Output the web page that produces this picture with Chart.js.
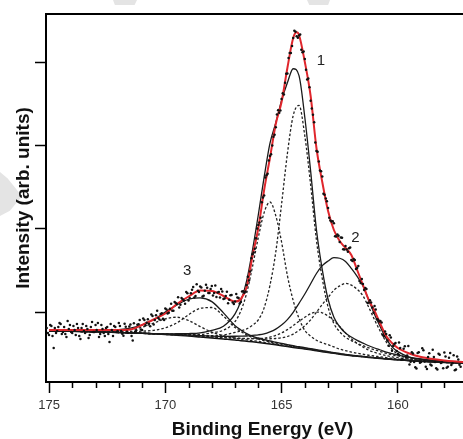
<!DOCTYPE html>
<html><head><meta charset="utf-8">
<script src="https://cdn.jsdelivr.net/npm/chart.js@4.4.0/dist/chart.umd.min.js"></script>
<style>
html,body{margin:0;padding:0;background:#fff;overflow:hidden;width:463px;height:439px;}
#wrap{position:relative;width:483px;height:439px;}
.wm{position:absolute;background:#e4e4e4;}
canvas{position:absolute;left:0;top:0;}
</style></head><body>
<div id="wrap">
<div class="wm" style="left:113px;top:0;width:24px;height:5px;clip-path:polygon(0 0,100% 0,90% 100%,8% 100%)"></div>
<div class="wm" style="left:307px;top:0;width:23px;height:5px;clip-path:polygon(0 0,100% 0,92% 100%,10% 100%)"></div>
<div class="wm" style="left:0;top:172px;width:22px;height:44px;clip-path:polygon(0 0,35% 15%,100% 55%,45% 88%,0 100%)"></div>
<canvas id="c" width="483" height="439"></canvas>
</div>
<script>
// ---- fit grid (binding energy, eV) ----
const fitEnergy = [175,174,173,172,171.5,171,170.5,170,169.5,169,168.5,168,167.5,167,166.75,166.5,166.25,166,165.75,165.5,165.25,165,164.75,164.5,164.25,164,163.75,163.5,163.25,163,162.75,162.5,162.25,162,161.75,161.5,161.25,161,160.75,160.5,160.25,160,159.5,159,158,156.6];
// Shirley-type background (counts)
const backgroundCounts = [772,768,762,754,749,744,737,730,721,712,700,688,676,664,656,649,642,634,625,616,606,596,586,575,565,556,546,535,524,514,504,494,485,476,469,462,455,449,443,437,431,426,416,408,395,381];
// component heights above background (counts)
const peak1a = [0,0,0,0,0,0,0,0,6,9,18,29,47,91,117,149,199,272,425,703,1112,1698,2313,2782,2914,2556,1980,1326,878,545,357,269,211,181,155,134,114,97,82,67,56,47,32,23,12,3];
const peak1b = [0,0,0,0,0,0,4,7,12,20,32,63,106,222,358,579,903,1261,1568,1704,1551,1244,852,562,358,222,165,126,107,94,77,60,51,43,36,31,26,22,19,15,13,10,7,5,2,0];
const peak2a = [0,0,0,1,1,2,2,3,5,7,9,13,16,23,28,33,39,45,51,63,76,94,120,160,215,279,360,463,566,661,758,819,858,846,804,732,600,456,324,204,120,72,24,8,0,0];
const peak2b = [0,0,0,0,0,1,2,3,4,6,8,10,16,22,26,30,39,47,61,82,113,153,203,261,324,381,433,464,466,437,390,332,264,202,155,118,87,66,52,40,31,26,19,13,7,2];
const peak3a = [1,3,6,13,18,26,43,80,149,255,344,366,275,149,110,76,52,41,33,26,22,18,16,14,12,10,9,8,7,6,5,5,4,4,3,3,2,2,2,1,1,1,1,0,0,0];
const peak3b = [2,4,10,22,39,73,130,188,216,186,125,71,39,23,19,16,14,13,11,10,9,8,7,7,6,6,5,5,4,4,3,3,3,3,2,2,2,2,2,1,1,1,1,0,0,0];
// envelope (sum of fit)
const envelopeEnergy = [175,174,173,172,171.5,171,170.5,170,169.5,169,168.5,168,167.5,167,166.75,166.5,166.25,166,165.75,165.5,165.25,165,164.75,164.5,164.35,164.25,164,163.75,163.5,163.25,163,162.75,162.5,162.25,162,161.75,161.5,161.25,161,160.75,160.5,160.25,160,159.5,159,158,156.6];
const envelopeCounts = [784,784,784,784,790,844,910,982,1096,1186,1258,1252,1192,1126,1156,1300,1672,2008,2464,2848,3256,3520,3928,4288,4356,4324,4000,3592,2968,2560,2212,1984,1852,1768,1684,1504,1324,1144,1012,856,712,628,568,502,460,418,388];
// measured data points (scan at x.x0 eV)
const dataEnergy = [175.1,175.0,174.9,174.8,174.7,174.6,174.5,174.4,174.3,174.2,
174.1,174.0,173.9,173.8,173.7,173.6,173.5,173.4,173.3,173.2,
173.1,173.0,172.9,172.8,172.7,172.6,172.5,172.4,172.3,172.2,
172.1,172.0,171.9,171.8,171.7,171.6,171.5,171.4,171.3,171.2,
171.1,171.0,170.9,170.8,170.7,170.6,170.5,170.4,170.3,170.2,
170.1,170.0,169.9,169.8,169.7,169.6,169.5,169.4,169.3,169.2,
169.1,169.0,168.9,168.8,168.7,168.6,168.5,168.4,168.3,168.2,
168.1,168.0,167.9,167.8,167.7,167.6,167.5,167.4,167.3,167.2,
167.1,167.0,166.9,166.8,166.7,166.6,166.5,166.4,166.3,166.2,
166.1,166.0,165.9,165.8,165.7,165.6,165.5,165.4,165.3,165.2,
165.1,165.0,164.9,164.8,164.7,164.6,164.5,164.4,164.3,164.2,
164.1,164.0,163.9,163.8,163.7,163.6,163.5,163.4,163.3,163.2,
163.1,163.0,162.9,162.8,162.7,162.6,162.5,162.4,162.3,162.2,
162.1,162.0,161.9,161.8,161.7,161.6,161.5,161.4,161.3,161.2,
161.1,161.0,160.9,160.8,160.7,160.6,160.5,160.4,160.3,160.2,
160.1,160.0,159.9,159.8,159.7,159.6,159.5,159.4,159.3,159.2,
159.1,159.0,158.9,158.8,158.7,158.6,158.5,158.4,158.3,158.2,
158.1,158.0,157.9,157.8,157.7,157.6,157.5,157.4,157.3];
const dataCounts = [808,724,832,568,748,820,856,760,736,892,
844,748,784,856,712,808,772,832,688,820,
760,844,868,736,796,712,820,640,784,832,
760,868,773,714,823,752,850,657,764,846,
905,784,905,870,860,969,850,960,927,977,
920,1042,981,1040,1014,1121,1096,1054,1168,1138,
1240,1138,1224,1299,1193,1256,1306,1185,1256,1290,
1229,1312,1228,1180,1240,1276,1156,1191,1106,1200,
1115,1126,1174,1102,1245,1230,1324,1377,1646,1715,
1886,2044,2130,2373,2613,2658,2872,2999,3126,3369,
3390,3556,3611,3858,4048,4108,4288,4364,4290,4331,
4118,4036,3789,3698,3443,3278,2932,2805,2690,2418,
2363,2248,2097,2090,1910,1929,1840,1890,1749,1751,
1766,1624,1636,1516,1552,1348,1336,1288,1108,1142,
1053,1072,914,887,875,710,736,594,693,592,
628,496,567,434,588,479,370,518,401,321,
516,400,540,344,459,371,547,399,311,486,
398,514,332,450,364,481,311,429,343];
// measured data points (scan at x.x5 eV)
const dataEnergyMid = [175.05,174.95,174.85,174.75,174.65,174.55,174.45,174.35,174.25,174.15,
174.05,173.95,173.85,173.75,173.65,173.55,173.45,173.35,173.25,173.15,
173.05,172.95,172.85,172.75,172.65,172.55,172.45,172.35,172.25,172.15,
172.05,171.95,171.85,171.75,171.65,171.55,171.45,171.35,171.25,171.15,
171.05,170.95,170.85,170.75,170.65,170.55,170.45,170.35,170.25,170.15,
170.05,169.95,169.85,169.75,169.65,169.55,169.45,169.35,169.25,169.15,
169.05,168.95,168.85,168.75,168.65,168.55,168.45,168.35,168.25,168.15,
168.05,167.95,167.85,167.75,167.65,167.55,167.45,167.35,167.25,167.15,
167.05,166.95,166.85,166.75,166.65,166.55,166.45,166.35,166.25,166.15,
166.05,165.95,165.85,165.75,165.65,165.55,165.45,165.35,165.25,165.15,
165.05,164.95,164.85,164.75,164.65,164.55,164.45,164.35,164.25,164.15,
164.05,163.95,163.85,163.75,163.65,163.55,163.45,163.35,163.25,163.15,
163.05,162.95,162.85,162.75,162.65,162.55,162.45,162.35,162.25,162.15,
162.05,161.95,161.85,161.75,161.65,161.55,161.45,161.35,161.25,161.15,
161.05,160.95,160.85,160.75,160.65,160.55,160.45,160.35,160.25,160.15,
160.05,159.95,159.85,159.75,159.65,159.55,159.45,159.35,159.25,159.15,
159.05,158.95,158.85,158.75,158.65,158.55,158.45,158.35,158.25,158.15,
158.05,157.95,157.85,157.75,157.65,157.55,157.45,157.35];
const dataCountsMid = [748,844,712,808,772,868,736,820,700,796,
760,832,724,808,676,856,748,796,724,880,
760,784,700,844,748,808,736,856,712,820,
772,832,738,859,764,825,712,866,781,852,
790,922,840,913,830,952,905,1015,910,984,
903,1030,992,1099,1014,1108,1177,1087,1153,1099,
1225,1169,1267,1174,1332,1239,1293,1196,1327,1229,
1276,1198,1318,1234,1174,1246,1161,1244,1147,1205,
1096,1216,1168,1119,1249,1247,1422,1487,1692,1758,
2001,2075,2317,2397,2641,2819,2893,3104,3217,3421,
3419,3625,3752,3863,4108,4192,4374,4309,4317,4147,
4125,3906,3803,3534,3366,3033,2922,2699,2626,2408,
2329,2130,2087,2066,1907,1914,1895,1753,1792,1722,
1773,1612,1624,1528,1372,1396,1264,1276,1113,1115,
990,1029,906,893,726,765,659,721,534,616,
532,633,428,559,461,592,402,501,337,508,
392,566,406,317,505,357,461,325,500,388,
324,465,343,509,386,300,466,368];
// axes
const xTickValues = [157,158,159,160,161,162,163,164,165,166,167,168,169,170,171,172,173,174,175];
const xMajorTicks = [160,165,170,175];
const yTickValues = [1000,2000,3000,4000];
const xRange = [156.51, 175.13];
const yRange = [160, 4576];
// peak labels
const peakLabels = ['1','2','3'];
const peakLabelEnergy = [163.31, 161.82, 169.06];
const peakLabelCounts = [4012, 1884, 1495];

Chart.defaults.font.family = '"Liberation Sans", Arial, Helvetica, sans-serif';

const pts = (xs, ys) => xs.map((x, i) => ({x: x, y: ys[i]}));
const onBackground = (...parts) => fitEnergy.map((x, i) => ({x: x, y: parts.reduce((s, p) => s + p[i], backgroundCounts[i])}));

const lineBase = {showLine: true, pointRadius: 0, fill: false, tension: 0.4, cubicInterpolationMode: 'monotone'};
const solid = (data) => Object.assign({}, lineBase, {data, borderColor: '#1a1a1a', borderWidth: 1.3, order: 2});
const dotted = (data) => Object.assign({}, lineBase, {data, borderColor: '#222', borderWidth: 1.3, borderDash: [2.5, 2], order: 3});

const datasets = [
  {data: pts(dataEnergy, dataCounts).concat(pts(dataEnergyMid, dataCountsMid)), showLine: false, pointRadius: 1.25, pointBackgroundColor: '#111', pointBorderWidth: 0, order: 0},
  Object.assign({}, lineBase, {data: pts(envelopeEnergy, envelopeCounts), borderColor: '#e0262c', borderWidth: 2, order: 1}),
  solid(onBackground(peak1a, peak1b)),
  solid(onBackground(peak2a, peak2b)),
  solid(onBackground(peak3a, peak3b)),
  dotted(onBackground(peak1a)), dotted(onBackground(peak1b)),
  dotted(onBackground(peak2a)), dotted(onBackground(peak2b)),
  dotted(onBackground(peak3a)), dotted(onBackground(peak3b)),
  Object.assign({}, lineBase, {data: pts(fitEnergy, backgroundCounts), borderColor: '#111', borderWidth: 1.5, order: 4})
];

const framePlugin = {
  id: 'frame',
  afterDraw(chart) {
    const {ctx, chartArea, scales} = chart;
    const xs = scales.x, ys = scales.y;
    ctx.save();
    ctx.strokeStyle = '#000';
    ctx.lineWidth = 2;
    ctx.beginPath();
    ctx.moveTo(chartArea.left - 1, chartArea.top);
    ctx.lineTo(chartArea.right, chartArea.top);
    ctx.stroke();
    ctx.lineWidth = 1.5;
    xs.ticks.forEach(t => {
      if (!xMajorTicks.includes(t.value)) {
        const px = Math.round(xs.getPixelForValue(t.value)) + 0.5;
        ctx.beginPath();
        ctx.moveTo(px, chartArea.bottom);
        ctx.lineTo(px, chartArea.bottom + 6);
        ctx.stroke();
      }
    });
    ctx.fillStyle = '#222';
    ctx.font = '15px "Liberation Sans", Arial, sans-serif';
    ctx.textAlign = 'center';
    ctx.textBaseline = 'middle';
    peakLabels.forEach((s, i) => ctx.fillText(s, xs.getPixelForValue(peakLabelEnergy[i]), ys.getPixelForValue(peakLabelCounts[i])));
    ctx.restore();
  }
};

new Chart(document.getElementById('c'), {
  type: 'scatter',
  data: {datasets},
  plugins: [framePlugin],
  options: {
    responsive: false, animation: false, devicePixelRatio: 1,
    layout: {padding: {left: 12.2, top: 14, right: 0, bottom: 0}},
    plugins: {legend: {display: false}, tooltip: {enabled: false}},
    scales: {
      x: {
        type: 'linear', reverse: true, min: xRange[0], max: xRange[1],
        afterBuildTicks: s => { s.ticks = xTickValues.map(v => ({value: v})); },
        ticks: {autoSkip: false, maxRotation: 0, padding: 5, color: '#333', font: {size: 13},
          callback: v => xMajorTicks.includes(v) ? String(v) : ''},
        grid: {display: true, drawOnChartArea: false, drawTicks: true, tickLength: 11, tickWidth: 1.5,
          tickColor: c => (c.tick && xMajorTicks.includes(c.tick.value)) ? '#000' : 'rgba(0,0,0,0)'},
        border: {display: true, color: '#000', width: 2},
        title: {display: true, text: 'Binding Energy (eV)', color: '#111',
          font: {size: 19, weight: 'bold', lineHeight: 1}, padding: {top: 1.4, bottom: 0}}
      },
      y: {
        type: 'linear', min: yRange[0], max: yRange[1],
        afterBuildTicks: s => { s.ticks = yTickValues.map(v => ({value: v})); },
        ticks: {display: false},
        grid: {display: true, drawOnChartArea: false, drawTicks: true, tickLength: 11, tickWidth: 1.5, tickColor: '#000'},
        border: {display: true, color: '#000', width: 2},
        title: {display: true, text: 'Intensity (arb. units)', color: '#111',
          font: {size: 19, weight: 'bold', lineHeight: 1.2}, padding: {top: 0, bottom: 0}}
      }
    }
  }
});
</script>
</body></html>
